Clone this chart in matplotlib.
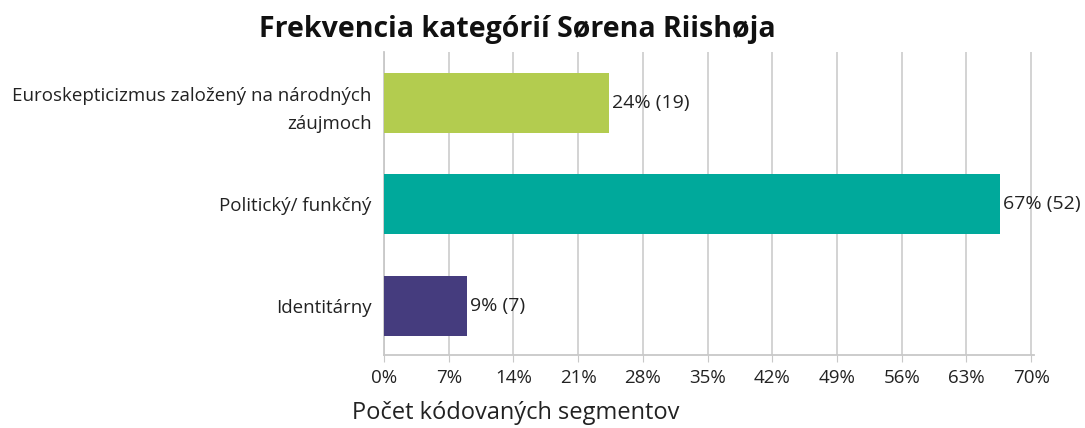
import matplotlib
matplotlib.use("Agg")
import matplotlib.pyplot as plt

categories = ["Identitárny", "Politický/ funkčný", "Euroskepticizmus založený na národných\nzáujmoch"]
counts = [7, 52, 19]
total = 78
percents = [c / total * 100 for c in counts]
colors = ["#453C7E", "#00A99B", "#B3CC4F"]
xticks = [0, 7, 14, 21, 28, 35, 42, 49, 56, 63, 70]

plt.rcParams['font.family'] = ['Open Sans', 'DejaVu Sans']

fig = plt.figure(figsize=(10.85, 4.28), dpi=100)
ax = fig.add_axes([0.354, 0.1706, 0.5989, 0.708])

y = range(len(categories))
ax.barh(y, percents, height=0.59, color=colors, zorder=3)
for yi, p, c in zip(y, percents, counts):
    ax.text(p + 0.3, yi, f"{round(p)}% ({c})", va="center", ha="left", fontsize=14, color="#222222", zorder=4)

ax.set_xlim(0, 70.3)
ax.set_ylim(-0.48, 2.5)
ax.set_xticks(xticks)
ax.set_xticklabels([f"{t}%" for t in xticks], fontsize=13.5, color="#222222")
ax.set_yticks(list(y))
ax.set_yticklabels(categories, fontsize=13.5, color="#222222", ha="right", multialignment="right",
                   linespacing=1.75)
ax.tick_params(axis="y", length=0, pad=9)
ax.tick_params(axis="x", length=5, color="#C8C8C8", pad=5)
ax.grid(axis="x", color="#D0D0D0", linewidth=1.3, zorder=0)
for s in ["top", "right"]:
    ax.spines[s].set_visible(False)
ax.spines["left"].set_color("#C8C8C8")
ax.spines["bottom"].set_color("#C8C8C8")
ax.spines["left"].set_linewidth(1.3)
ax.spines["bottom"].set_linewidth(1.3)

fig.text(0.477, 0.93, "Frekvencia kategórií Sørena Riishøja", ha="center", va="center",
         fontsize=20.5, fontweight="bold", color="#111111")
fig.text(0.324, 0.035, "Počet kódovaných segmentov", ha="left", va="center", fontsize=17, color="#222222")

fig.savefig("out.png", dpi=100)
